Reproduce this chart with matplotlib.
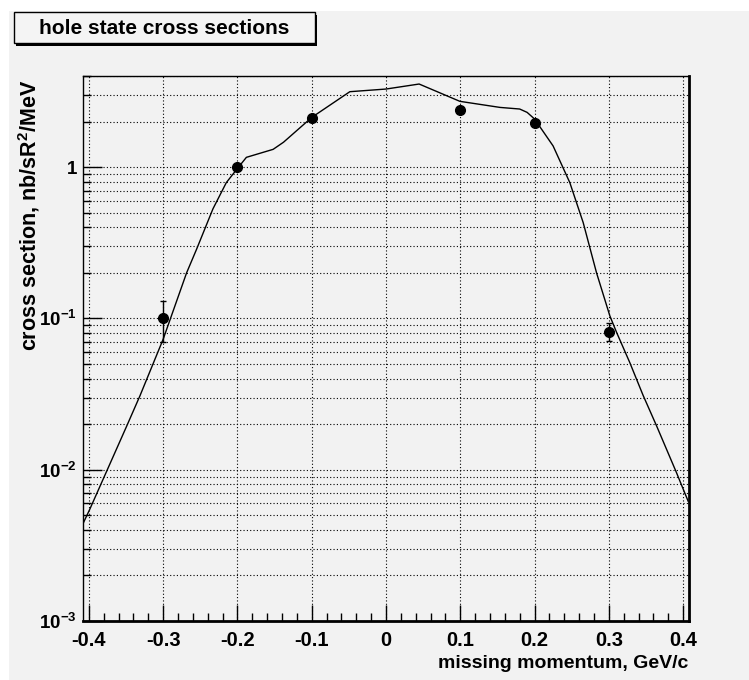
import matplotlib
matplotlib.use('Agg')
import matplotlib.pyplot as plt
from matplotlib.patches import Rectangle
from matplotlib.ticker import FixedLocator, NullFormatter, LogLocator
import numpy as np

FONT = ['Liberation Sans', 'DejaVu Sans']
plt.rcParams['font.family'] = FONT
plt.rcParams['font.weight'] = 'bold'
plt.rcParams['mathtext.fontset'] = 'custom'
plt.rcParams['mathtext.rm'] = 'Liberation Sans:bold'
plt.rcParams['mathtext.bf'] = 'Liberation Sans:bold'
plt.rcParams['mathtext.it'] = 'Liberation Sans:bold'
plt.rcParams['axes.unicode_minus'] = False

# measured points
data_x = [-0.3, -0.2, -0.1, 0.1, 0.2, 0.3]
data_y = [0.10, 1.00, 2.10, 2.38, 1.95, 0.081]
data_err_lo = [0.030, 0.03, 0.05, 0.06, 0.05, 0.010]
data_err_hi = [0.030, 0.03, 0.05, 0.06, 0.05, 0.012]

# calculated curve
curve_x = [-0.408, -0.3987, -0.349, -0.3313, -0.3, -0.2685, -0.255, -0.233,
           -0.215, -0.2, -0.188, -0.152, -0.138, -0.1, -0.0487, 0.0, 0.0446,
           0.0995, 0.1535, 0.18, 0.19, 0.2, 0.225, 0.2475, 0.2655, 0.2835,
           0.3014, 0.3104, 0.3283, 0.3462, 0.3643, 0.391, 0.4068]
curve_y = [0.0044, 0.0055, 0.0195, 0.0308, 0.073, 0.20, 0.287, 0.53,
           0.79, 0.98, 1.16, 1.31, 1.46, 2.13, 3.15, 3.28, 3.54,
           2.72, 2.48, 2.42, 2.30, 2.08, 1.38, 0.79, 0.43, 0.20,
           0.104, 0.081, 0.051, 0.031, 0.0195, 0.0096, 0.0062]

xticks = [-0.4, -0.3, -0.2, -0.1, 0.0, 0.1, 0.2, 0.3, 0.4]
xtick_labels = ['-0.4', '-0.3', '-0.2', '-0.1', '0', '0.1', '0.2', '0.3', '0.4']
yticks = [0.001, 0.01, 0.1, 1.0]
ytick_labels = [r'$10^{-3}$', r'$10^{-2}$', r'$10^{-1}$', '1']

BG = '#f2f2f2'
W, H = 749, 680
fig = plt.figure(figsize=(W / 100, H / 100), dpi=100, facecolor='white')
# grey canvas (white margin top/left)
fig.patches.append(Rectangle((9 / W, 0), 1, 1 - 11 / H, transform=fig.transFigure,
                             facecolor=BG, edgecolor='none', zorder=-10))

ax = fig.add_axes([83 / W, 1 - 621 / H, 606 / W, 545 / H])
ax.set_facecolor(BG)
ax.set_yscale('log')
ax.set_xlim(-0.408, 0.408)
ax.set_ylim(0.001, 4.0)

# ticks
ax.xaxis.set_major_locator(FixedLocator(xticks))
ax.xaxis.set_minor_locator(FixedLocator(np.round(np.arange(-0.4, 0.41, 0.02), 3)))
ax.set_xticklabels(xtick_labels)
ax.yaxis.set_major_locator(FixedLocator(yticks))
ax.yaxis.set_minor_locator(LogLocator(base=10, subs=np.arange(2, 10), numticks=20))
ax.yaxis.set_minor_formatter(NullFormatter())
ax.set_yticklabels(ytick_labels)
ax.tick_params(which='both', direction='in', top=False, right=False)
ax.tick_params(axis='x', which='major', length=11.5, width=1.0, labelsize=14.5, pad=7)
ax.tick_params(which='minor', length=5.5, width=1.0)
ax.tick_params(axis='y', which='major', length=14, width=1.0, labelsize=13.5, pad=4.5)

# grid
ax.grid(True, which='major', axis='x', color='black', linestyle=(0, (1, 2)), linewidth=0.8)
ax.grid(True, which='both', axis='y', color='black', linestyle=(0, (1, 2)), linewidth=0.8)
ax.set_axisbelow(True)

for side in ['left', 'top']:
    ax.spines[side].set_linewidth(1.0)
for side in ['right', 'bottom']:
    ax.spines[side].set_linewidth(2.0)

# curve and points
ax.plot(curve_x, curve_y, color='black', linewidth=1.0, zorder=3)
ax.errorbar(data_x, data_y, yerr=[data_err_lo, data_err_hi], fmt='o', color='black',
            markersize=7, capsize=2, elinewidth=1.0, capthick=1.0, zorder=4)

# axis titles
fig.text(688 / W, 1 - 664 / H, 'missing momentum, GeV/c', ha='right', va='center',
         fontsize=14, fontweight='bold')
fig.text(29 / W, 1 - 80 / H, r'cross section, nb/sR$^{2}$/MeV', rotation=90,
         ha='center', va='top', fontsize=15.5, fontweight='bold')

# title box with shadow
fig.patches.append(Rectangle((16 / W, 1 - 46 / H), 301 / W, 31 / H, transform=fig.transFigure,
                             facecolor='black', edgecolor='none', zorder=5))
fig.patches.append(Rectangle((14 / W, 1 - 43 / H), 301 / W, 31 / H, transform=fig.transFigure,
                             facecolor='#f4f4f4', edgecolor='black', linewidth=1.0, zorder=6))
fig.text(164 / W, 1 - 28 / H, 'hole state cross sections', ha='center', va='center',
         fontsize=15, fontweight='bold', zorder=7)

fig.savefig('out.png', dpi=100, facecolor='white')
